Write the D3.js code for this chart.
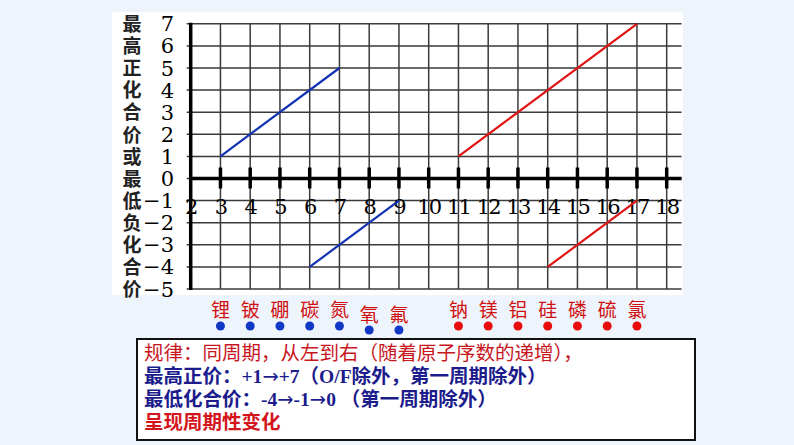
<!DOCTYPE html>
<meta charset="utf-8">
<script src="https://d3js.org/d3.v7.min.js"></script>
<style>
body { margin: 0; background: #eef4fb; overflow: hidden; }
</style>
<svg id="vis" width="794" height="445"></svg>
<script>
// data
var xTicks = d3.range(2, 19);           // atomic numbers 2..18
var yTicks = d3.range(-5, 8);           // valence -5..7
var yTitle = "最高正化合价或最低负化合价";

// valence lines: [x1, y1, x2, y2]
var blueLines = [[3, 1, 7, 5], [6, -4, 9, -1]];
var redLines  = [[11, 1, 17, 7], [14, -4, 17, -1]];

// elements below the chart, placed by atomic number
var elemNames = ["锂","铍","硼","碳","氮","氧","氟","钠","镁","铝","硅","磷","硫","氯"];
var elemZ     = [3, 4, 5, 6, 7, 8, 9, 11, 12, 13, 14, 15, 16, 17];
var elemDrop  = [0, 0, 0, 0, 0, 1, 1, 0, 0, 0, 0, 0, 0, 0];   // O and F sit a bit lower

var noteLines = [
  {t: "规律：同周期，从左到右（随着原子序数的递增），", c: "#c8161d", w: "normal"},
  {t: "最高正价：+1→+7（O/F除外，第一周期除外）", c: "#1c1c8c", w: "bold"},
  {t: "最低化合价：-4→-1→0 （第一周期除外）", c: "#1c1c8c", w: "bold"},
  {t: "呈现周期性变化", c: "#d4141b", w: "bold"}
];

var svg = d3.select("#vis");

// white picture area
svg.append("rect").attr("x", 112).attr("y", 12).attr("width", 571).attr("height", 283).attr("fill", "#fff");

var x = d3.scaleLinear().domain([2, 18]).range([190.7, 666.7]);
var y = d3.scaleLinear().domain([-5, 7]).range([289, 23.8]);

var grid = svg.append("g");
// horizontal grid
grid.selectAll("line.h").data(yTicks).enter().append("line")
  .attr("x1", x(2) - 4).attr("x2", x(18.5))
  .attr("y1", d => y(d)).attr("y2", d => y(d))
  .attr("stroke", "#3a3a3a").attr("stroke-width", 1.5);
// vertical grid
grid.selectAll("line.v").data(xTicks.slice(1)).enter().append("line")
  .attr("x1", d => x(d)).attr("x2", d => x(d))
  .attr("y1", y(7)).attr("y2", y(-5))
  .attr("stroke", "#3a3a3a").attr("stroke-width", 1.5);

// y axis
svg.append("line").attr("x1", x(2)).attr("x2", x(2)).attr("y1", y(7) - 1).attr("y2", y(-5) + 1)
  .attr("stroke", "#000").attr("stroke-width", 3.5);

// x axis with ticks
svg.append("line").attr("x1", x(2)).attr("x2", x(18.5)).attr("y1", y(0)).attr("y2", y(0))
  .attr("stroke", "#000").attr("stroke-width", 3.5);
svg.selectAll("line.xt").data(xTicks.slice(1)).enter().append("line")
  .attr("x1", d => x(d)).attr("x2", d => x(d))
  .attr("y1", y(0) - 11).attr("y2", y(0) + 10)
  .attr("stroke", "#000").attr("stroke-width", 3.5);

// x tick labels
svg.selectAll("text.xl").data(xTicks).enter().append("text")
  .attr("x", d => x(d)).attr("y", y(0) + 35)
  .attr("text-anchor", "middle")
  .attr("font-family", "DejaVu Serif, serif").attr("font-size", 21)
  .attr("letter-spacing", -2)
  .text(d => d);

// y tick labels
svg.selectAll("text.yl").data(yTicks).enter().append("text")
  .attr("x", 174).attr("y", d => y(d)).attr("dy", "0.36em")
  .attr("text-anchor", "end")
  .attr("font-family", "DejaVu Serif, serif").attr("font-size", 21)
  .text(d => d < 0 ? "\u2212" + (-d) : d);

// y title, written top to bottom, one character per grid row
var tSize = 19, rowH = y(6) - y(7);
svg.append("text")
  .attr("x", 132).attr("y", y(7) - tSize / 2)
  .style("writing-mode", "vertical-rl")
  .attr("letter-spacing", rowH - tSize)
  .attr("font-family", "Noto Sans CJK SC").attr("font-size", tSize).attr("font-weight", "bold")
  .attr("fill", "#222")
  .text(yTitle);

// valence lines
function drawLines(data, color) {
  svg.append("g").selectAll("line").data(data).enter().append("line")
    .attr("x1", d => x(d[0])).attr("y1", d => y(d[1]))
    .attr("x2", d => x(d[2])).attr("y2", d => y(d[3]))
    .attr("stroke", color).attr("stroke-width", 2.2);
}
drawLines(blueLines, "#1432b4");
drawLines(redLines, "#e01414");

// element names and dots
var elems = elemNames.map((n, i) => ({n: n, z: elemZ[i], drop: elemDrop[i]}));
svg.selectAll("text.el").data(elems).enter().append("text")
  .attr("x", d => x(d.z)).attr("y", d => 317 + d.drop * 5)
  .attr("text-anchor", "middle")
  .attr("font-family", "Noto Sans CJK SC").attr("font-size", 19)
  .attr("fill", "#d01010")
  .text(d => d.n);
svg.selectAll("circle.el").data(elems).enter().append("circle")
  .attr("cx", d => x(d.z)).attr("cy", d => 326 + d.drop * 4)
  .attr("r", 4.5)
  .attr("fill", d => d.z < 10 ? "#1238c8" : "#e80c0c");

// note box
svg.append("rect").attr("x", 137).attr("y", 339).attr("width", 558).attr("height", 101)
  .attr("fill", "#fff").attr("stroke", "#111").attr("stroke-width", 2);
var note = svg.append("text")
  .attr("x", 144).attr("y", 360)
  .attr("font-family", "'Liberation Serif', 'Noto Sans CJK SC'").attr("font-size", 19.5);
var rows = note.selectAll("tspan.row").data(noteLines).enter().append("tspan")
  .attr("x", 144).attr("dy", (d, i) => i ? 23 : 0)
  .attr("font-weight", d => d.w)
  .attr("fill", d => d.c);
// split on arrows so the arrows get a font with a full-size glyph
rows.each(function(d) {
  var row = d3.select(this);
  d.t.split(/(→)/).forEach(function(part) {
    if (!part) return;
    var s = row.append("tspan").text(part);
    if (part === "→") s.attr("font-family", "DejaVu Sans").attr("font-weight", "normal");
  });
});
</script>
